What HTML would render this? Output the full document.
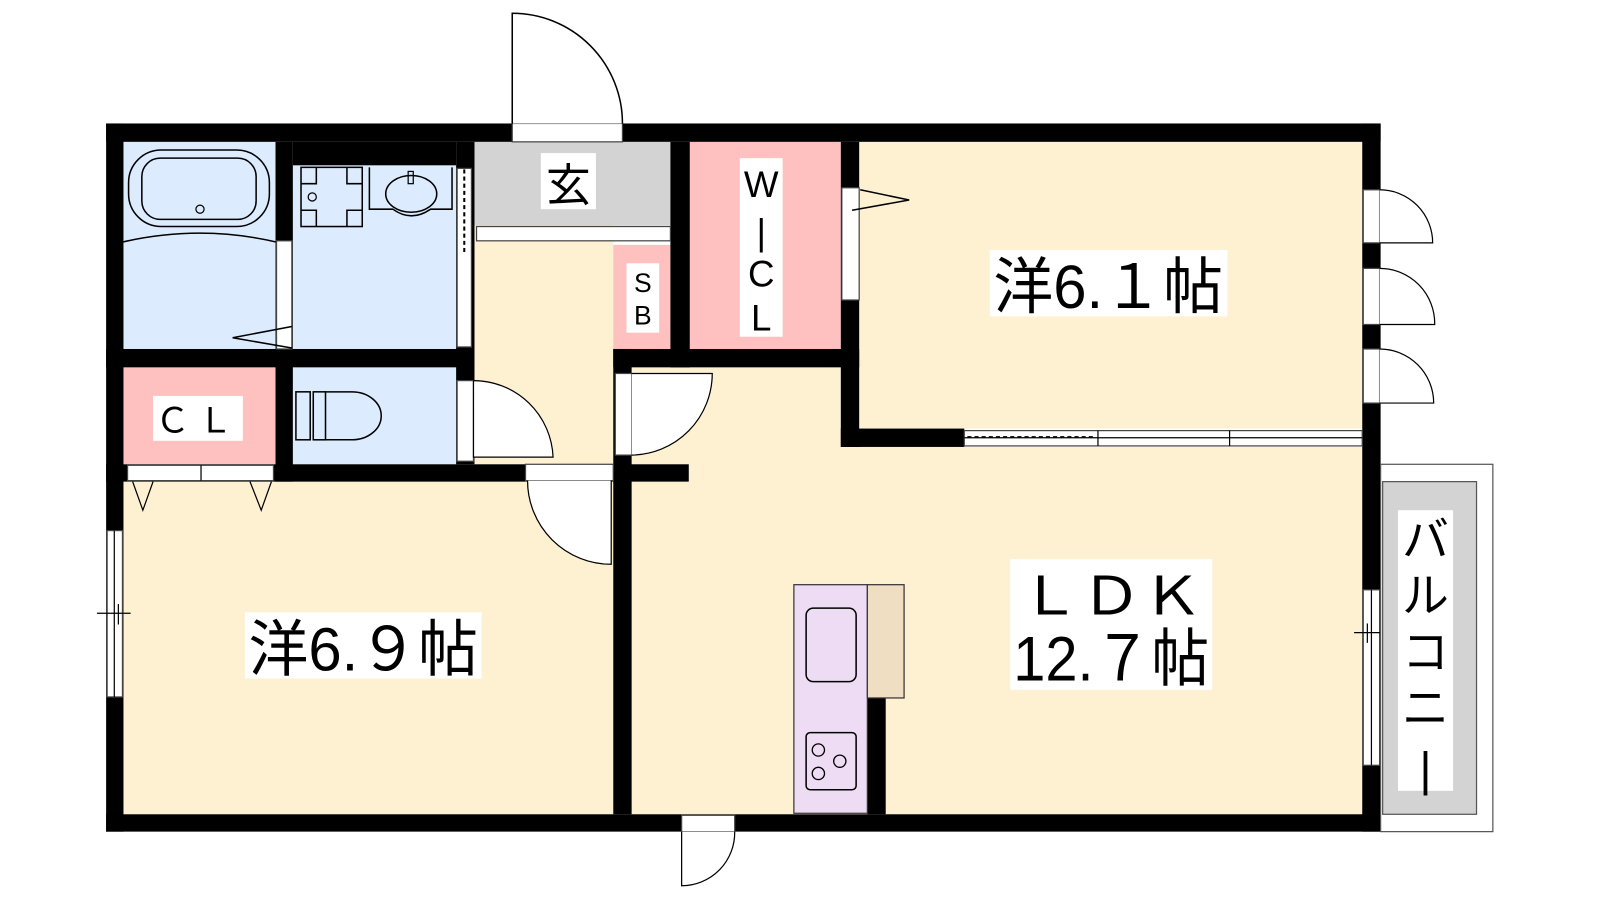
<!DOCTYPE html>
<html><head><meta charset="utf-8"><style>
html,body{margin:0;padding:0;background:#fff;}
svg{display:block}
text{font-family:"Liberation Sans","Noto Sans CJK JP",sans-serif;fill:#000}
</style></head><body>
<svg width="1600" height="900" viewBox="0 0 1568 882" preserveAspectRatio="none" xmlns="http://www.w3.org/2000/svg">
<rect x="121" y="139" width="149" height="203" fill="#dcebfd"/>
<rect x="287" y="162" width="160" height="180" fill="#dcebfd"/>
<rect x="287" y="360" width="160" height="95" fill="#dcebfd"/>
<rect x="121" y="360" width="149" height="95" fill="#ffc0c0"/>
<rect x="465" y="139" width="192" height="82" fill="#d3d3d3"/>
<rect x="465" y="221" width="136" height="234" fill="#fef1d2"/>
<rect x="601" y="240" width="56" height="102" fill="#ffc0c0"/>
<rect x="676" y="139" width="148" height="203" fill="#ffc0c0"/>
<rect x="842" y="139" width="493" height="281" fill="#fef1d2"/>
<rect x="121" y="471" width="480" height="327" fill="#fef1d2"/>
<rect x="619" y="360" width="205" height="438" fill="#fef1d2"/>
<rect x="619" y="438" width="716" height="360" fill="#fef1d2"/>
<g fill="#000">
<rect x="104" y="121" width="1249" height="18"/>
<rect x="104" y="121" width="17" height="694"/>
<rect x="104" y="798" width="1249" height="17"/>
<rect x="1335" y="121" width="18" height="694"/>
<rect x="270" y="139" width="17" height="216"/>
<rect x="287" y="139" width="160" height="23"/>
<rect x="447" y="139" width="18" height="316"/>
<rect x="104" y="342" width="361" height="18"/>
<rect x="270" y="342" width="17" height="130"/>
<rect x="104" y="455" width="571" height="17"/>
<rect x="601" y="342" width="18" height="456"/>
<rect x="601" y="342" width="241" height="18"/>
<rect x="657" y="139" width="19" height="221"/>
<rect x="824" y="139" width="18" height="299"/>
<rect x="824" y="420" width="121" height="18"/>
<rect x="850" y="684" width="18" height="114"/>
</g>
<g fill="#fff" stroke="#444" stroke-width="1.2">
<rect x="502" y="121" width="108" height="18"/>
<rect x="467" y="222" width="190" height="14"/>
<rect x="271" y="236" width="15" height="106"/>
<rect x="448" y="165" width="14" height="175"/>
<rect x="448" y="373" width="16" height="79"/>
<rect x="515" y="455" width="86" height="16"/>
<rect x="603" y="366" width="16" height="80"/>
<rect x="825" y="184" width="17" height="110"/>
<rect x="945" y="422" width="390" height="15"/>
<rect x="125" y="456" width="143" height="15"/>
<rect x="105" y="520" width="15" height="163"/>
<rect x="1336" y="578" width="16" height="172"/>
<rect x="1336" y="186" width="16" height="52"/>
<rect x="1336" y="263" width="16" height="55"/>
<rect x="1336" y="342" width="16" height="53"/>
<rect x="668" y="799" width="52" height="16"/>
</g>
<g fill="none" stroke="#000" stroke-width="1.2">
<line x1="1076" y1="422" x2="1076" y2="437"/><line x1="1205" y1="422" x2="1205" y2="437"/>
<line x1="945" y1="429" x2="1335" y2="429"/>
<line x1="948" y1="428" x2="1074" y2="428" stroke-dasharray="4 3"/>
<line x1="455" y1="166" x2="455" y2="250" stroke-dasharray="4 3" stroke-width="2"/>
<line x1="197" y1="456" x2="197" y2="471"/>
<line x1="112" y1="520" x2="112" y2="683"/><line x1="95" y1="601" x2="128" y2="601"/><line x1="116" y1="592" x2="116" y2="612"/>
<line x1="1344" y1="578" x2="1344" y2="750"/><line x1="1327" y1="620" x2="1360" y2="620"/><line x1="1340" y1="611" x2="1340" y2="630"/>
<path d="M502,121 V13 A108,108 0 0 1 610,121" fill="#fff" stroke-width="1.5"/>
<path d="M464,373 V448 H542 A78,78 0 0 0 464,373" fill="#fff"/>
<path d="M599,471 V553 A82,82 0 0 1 517,471" fill="#fff"/>
<path d="M619,366 H698 A80,80 0 0 1 619,446" fill="#fff"/>
<path d="M668,815 V868 A52,52 0 0 0 720,815" fill="#fff"/>
<path d="M1352,186 A52,52 0 0 1 1404,238 H1352" fill="#fff"/>
<path d="M1352,263 A54,54 0 0 1 1406,318 H1352" fill="#fff"/>
<path d="M1352,342 A53,53 0 0 1 1405,395 H1352" fill="#fff"/>
<path d="M130,472 L140,500 L150,472 M245,472 L256,500 L266,472"/>
<path d="M286,320 L228,331 L286,341" stroke-width="1.5"/>
<path d="M843,186 L891,196 L835,206" stroke-width="1.5"/>
<rect x="126" y="147" width="138" height="75" rx="32" stroke-width="1.5"/>
<rect x="139" y="155" width="112" height="60" rx="18" stroke-width="1.5"/>
<circle cx="196" cy="205" r="4"/>
<path d="M121,237 Q196,220 270,237" stroke-width="1.5"/>
<rect x="295" y="164" width="60" height="58" stroke-width="1.5"/>
<path d="M295,180 H310 V164 M340,164 V180 H355 M295,206 H310 V222 M340,222 V206 H355" stroke-width="1.5"/>
<circle cx="306" cy="193" r="4"/>
<path d="M362,164 V205 H385 Q403,218 422,205 H443 V164" stroke-width="1.5"/>
<ellipse cx="403" cy="190" rx="25" ry="18" stroke-width="1.5"/>
<rect x="400" y="168" width="5" height="12"/>
<rect x="290" y="384" width="14" height="47" stroke-width="1.5"/>
<rect x="307" y="384" width="12" height="47" stroke-width="1.5"/>
<path d="M319,384 H345 A28,23 0 0 1 345,431 H319" stroke-width="1.5"/>
</g>
<rect x="778" y="573" width="72" height="224" fill="#eedcf5" stroke="#333" stroke-width="1.2"/>
<rect x="850" y="573" width="36" height="111" fill="#f0dec3" stroke="#333" stroke-width="1.2"/>
<rect x="790" y="596" width="49" height="72" rx="7" fill="none" stroke="#000" stroke-width="1.5"/>
<rect x="790" y="718" width="49" height="56" rx="4" fill="none" stroke="#000" stroke-width="1.5"/>
<g fill="none" stroke="#000" stroke-width="1.3">
<circle cx="802" cy="735" r="6"/><circle cx="823" cy="746" r="6"/><circle cx="802" cy="758" r="6"/>
</g>
<rect x="1353" y="455" width="110" height="360" fill="#fff" stroke="#555" stroke-width="1.2"/>
<rect x="1355" y="472" width="92" height="326" fill="#d3d3d3" stroke="#555" stroke-width="1.2"/>
<rect x="530" y="150" width="54" height="55" fill="#fff"/>
<text x="557" y="197" font-size="44" text-anchor="middle">玄</text>
<rect x="725" y="155" width="42" height="175" fill="#fff"/>
<text x="746" y="193" font-size="36" text-anchor="middle">W</text>
<text x="746" y="240" font-size="36" text-anchor="middle">|</text>
<text x="746" y="281" font-size="36" text-anchor="middle">C</text>
<text x="746" y="324" font-size="36" text-anchor="middle">L</text>
<rect x="614" y="258" width="32" height="68" fill="#fff"/>
<text x="630" y="286" font-size="26" text-anchor="middle">S</text>
<text x="630" y="318" font-size="26" text-anchor="middle">B</text>
<rect x="150" y="388" width="88" height="44" fill="#fff"/>
<text x="194" y="424" font-size="34" text-anchor="middle" letter-spacing="8">ＣＬ</text>
<rect x="970" y="245" width="233" height="65" fill="#fff"/>
<text x="1086" y="302" font-size="60" text-anchor="middle" textLength="225" lengthAdjust="spacingAndGlyphs">洋6.１帖</text>
<rect x="240" y="600" width="232" height="65" fill="#fff"/>
<text x="356" y="657" font-size="60" text-anchor="middle" textLength="225" lengthAdjust="spacingAndGlyphs">洋6.９帖</text>
<rect x="990" y="548" width="198" height="128" fill="#fff"/>
<text x="1089" y="602" font-size="52" text-anchor="middle" textLength="180" lengthAdjust="spacingAndGlyphs">ＬＤＫ</text>
<text x="1089" y="667" font-size="62" text-anchor="middle" textLength="192" lengthAdjust="spacingAndGlyphs">12.７帖</text>
<rect x="1370" y="500" width="54" height="275" fill="#fff"/>
<g font-size="46" text-anchor="middle">
<text x="1397" y="545">バ</text><text x="1397" y="600">ル</text><text x="1397" y="655">コ</text><text x="1397" y="710">ニ</text><text x="1397" y="770">|</text>
</g>
</svg>
</body></html>
